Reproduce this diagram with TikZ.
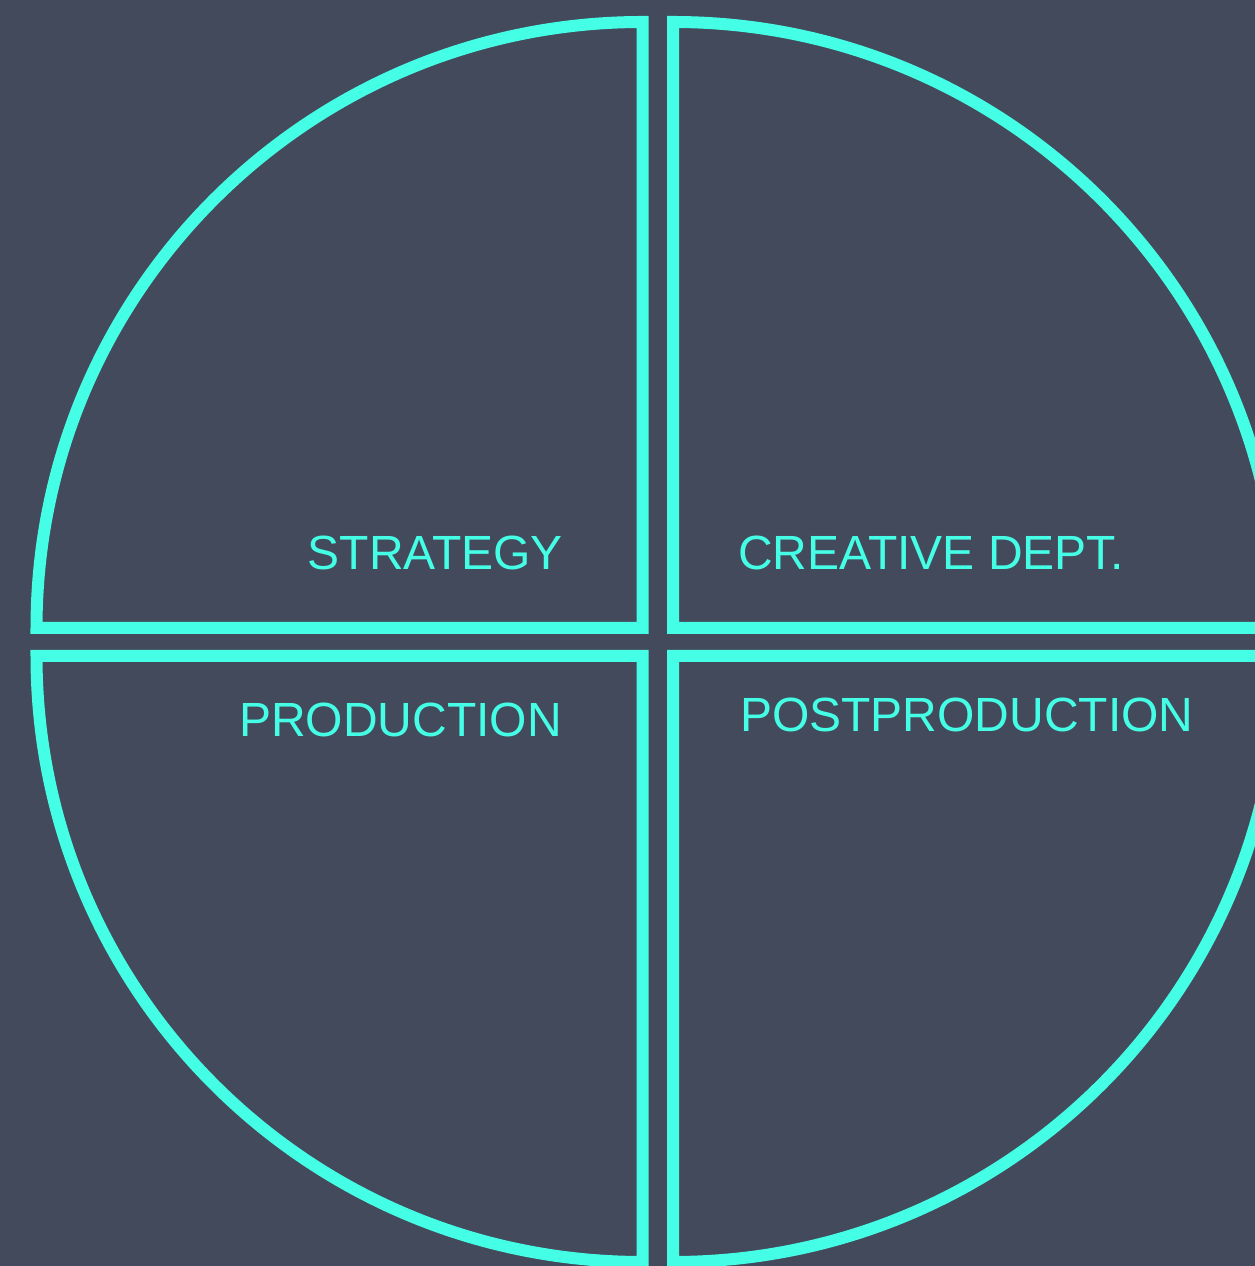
\documentclass[tikz,border=0pt]{standalone}
\usepackage{fontspec}
\setmainfont{Liberation Sans}
\definecolor{slate}{HTML}{434A5B}
\definecolor{aqua}{HTML}{44FFE6}

\begin{document}
\begin{tikzpicture}[x=1pt,y=1pt,
		quarter/.style={draw=aqua,line width=12pt,line join=miter},
		label/.style={aqua,inner sep=0pt,font=\fontsize{48}{58}\selectfont}]
		\fill[slate] (0,0) rectangle (1255,1266);
		\useasboundingbox (0,0) rectangle (1255,1266);
		\clip (0,0) rectangle (1255,1266);
		\draw[quarter] (642.5,638) -- ++(-606,0) arc[start angle=180,end angle=90,radius=606] -- cycle;
		\draw[quarter] (673,638) -- ++(0,606) arc[start angle=90,end angle=0,radius=606] -- cycle;
		\draw[quarter] (673,610) -- ++(606,0) arc[start angle=0,end angle=-90,radius=606] -- cycle;
		\draw[quarter] (642.5,610) -- ++(0,-606) arc[start angle=270,end angle=180,radius=606] -- cycle;
		\node[label,anchor=base east] (strategy) at (563,696){STRATEGY};
		\node[label,anchor=base west] (creative) at (738,696){CREATIVE DEPT.};
		\node[label,anchor=base east] (production) at (562,529){PRODUCTION};
		\node[label,anchor=base west] (postproduction) at (740,534){POSTPRODUCTION};
	\end{tikzpicture}
\end{document}
